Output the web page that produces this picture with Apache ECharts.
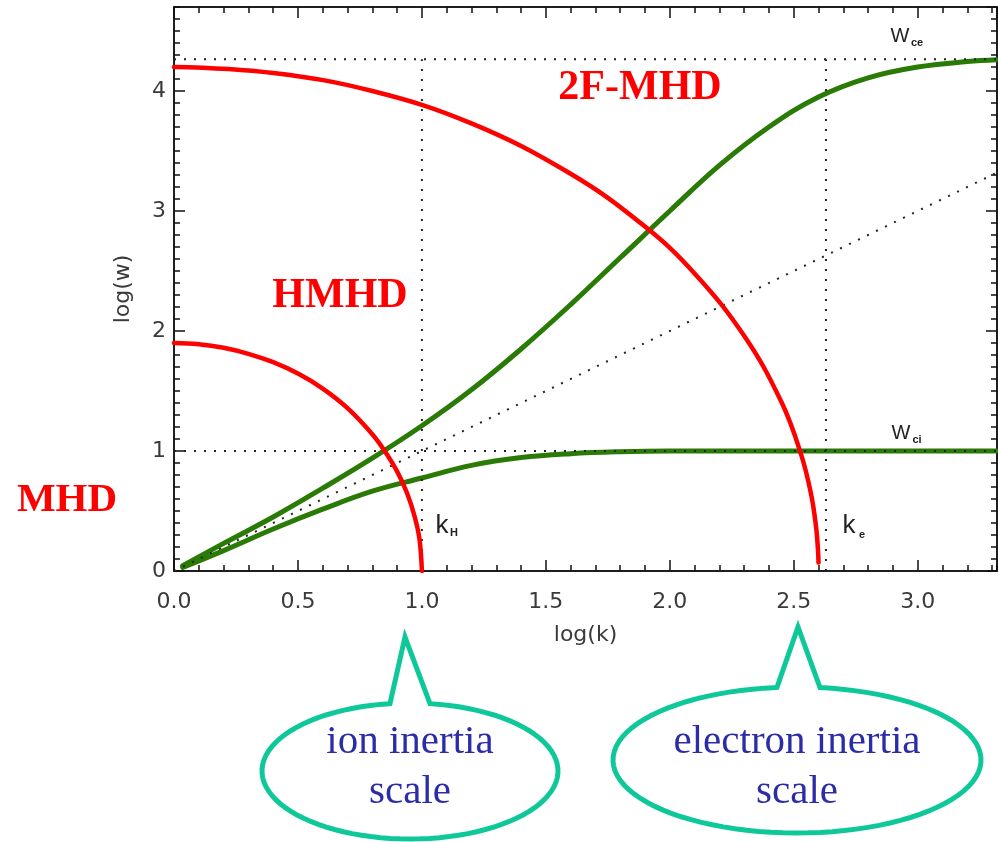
<!DOCTYPE html>
<html>
<head>
<meta charset="utf-8">
<title>2F-MHD dispersion</title>
<script src="https://cdn.jsdelivr.net/npm/echarts@6/dist/echarts.min.js"></script>
<style>
  html, body { margin: 0; padding: 0; background: #fff; }
  #chart { width: 998px; height: 842px; }
</style>
</head>
<body>
<div id="chart"></div>
<script>
// axis ranges and tick labels
var kMin = 0, kMax = 3.32;
var wMin = 0, wMax = 4.7;
var xTickLabels = ['0.0', '0.5', '1.0', '1.5', '2.0', '2.5', '3.0'];
var yTickLabels = ['0', '1', '2', '3', '4'];

// characteristic scales (log units)
var kH = 1.0, kE = 2.63;
var wCi = 1.0, wCe = 4.264;

// green dispersion branches
var upperBranch = [
  [0.035, 0.045], [0.2, 0.23], [0.4, 0.45], [0.6, 0.69], [0.8, 0.94],
  [1.0, 1.21], [1.2, 1.51], [1.4, 1.85], [1.6, 2.22], [1.8, 2.61],
  [2.0, 3.0], [2.2, 3.38], [2.4, 3.7], [2.6, 3.95], [2.8, 4.11],
  [3.0, 4.2], [3.2, 4.245], [3.32, 4.26]
];
var lowerBranch = [
  [0.035, 0.03], [0.2, 0.17], [0.4, 0.35], [0.6, 0.515], [0.8, 0.665],
  [1.0, 0.775], [1.2, 0.88], [1.4, 0.945], [1.6, 0.978], [1.8, 0.994],
  [2.0, 1.0], [2.5, 1.0], [3.32, 1.0]
];

// red regime boundaries
var mhdArc = [
  [0, 1.9], [0.1, 1.89], [0.2, 1.86], [0.3, 1.81], [0.4, 1.74], [0.5, 1.645],
  [0.6, 1.52], [0.7, 1.357], [0.8, 1.14], [0.85, 1.0], [0.9, 0.83],
  [0.94, 0.65], [0.97, 0.46], [0.99, 0.27], [1.0, 0]
];
var hallArc = [
  [0, 4.2], [0.4, 4.15], [0.8, 4.0], [1.2, 3.73], [1.6, 3.31], [1.9, 2.87],
  [2.1, 2.48], [2.3, 1.96], [2.45, 1.41], [2.53, 0.97], [2.57, 0.64],
  [2.59, 0.37], [2.598, 0.17], [2.6, 0.07]
];

var chart = echarts.init(document.getElementById('chart'));

var ink = '#111';
var tickFont = 'DejaVu Sans';
var tickColor = '#3a3a3a';

function xAx(pos, step, len, labelled) {
  return {
    type: 'value', position: pos, min: kMin, max: kMax, interval: step,
    axisLine: { show: true, onZero: false, lineStyle: { color: ink, width: 1.5 } },
    axisTick: { show: true, inside: true, length: len, lineStyle: { color: ink, width: 1.5 } },
    minorTick: { show: false },
    splitLine: { show: false },
    axisLabel: labelled ? {
      show: true, margin: 20, color: tickColor, fontSize: 22, fontFamily: tickFont,
      showMaxLabel: false,
      formatter: function (v) {
        var i = Math.round(v / 0.5);
        return Math.abs(v - i * 0.5) < 1e-6 && xTickLabels[i] ? xTickLabels[i] : '';
      }
    } : { show: false },
    name: labelled ? 'log(k)' : '',
    nameLocation: 'middle', nameGap: 53,
    nameTextStyle: { color: tickColor, fontSize: 22, fontFamily: tickFont }
  };
}

function yAx(pos, step, len, labelled) {
  return {
    type: 'value', position: pos, min: wMin, max: wMax, interval: step,
    axisLine: { show: true, onZero: false, lineStyle: { color: ink, width: 1.5 } },
    axisTick: { show: true, inside: true, length: len, lineStyle: { color: ink, width: 1.5 } },
    minorTick: { show: false },
    splitLine: { show: false },
    axisLabel: labelled ? {
      show: true, margin: 8, color: tickColor, fontSize: 22, fontFamily: tickFont,
      showMaxLabel: false,
      formatter: function (v) {
        var i = Math.round(v);
        return Math.abs(v - i) < 1e-6 && yTickLabels[i] ? yTickLabels[i] : '';
      }
    } : { show: false },
    name: labelled ? 'log(w)' : '',
    nameLocation: 'middle', nameGap: 40, nameRotate: 90,
    nameTextStyle: { color: tickColor, fontSize: 22, fontFamily: tickFont }
  };
}

function dotted(data) {
  return {
    type: 'line', data: data, symbol: 'none', silent: true,
    lineStyle: { color: '#222', width: 2, type: [2, 8] }
  };
}

function curve(data, color, width) {
  return {
    type: 'line', data: data, symbol: 'none', smooth: 0.4, silent: true,
    lineStyle: { color: color, width: width, cap: 'round' }
  };
}

var green = '#2a7a06';
var red = '#ff0000';
var teal = '#0fc89a';
var navy = '#2c2ca6';

function sub(x, y, s, size) {
  return { type: 'text', x: x, y: y, style: { text: s, font: 'bold ' + size + 'px "Liberation Sans"', fill: '#222', align: 'center', verticalAlign: 'middle' } };
}
function big(x, y, s, size, color, weight, family) {
  return { type: 'text', x: x, y: y, style: { text: s, font: weight + ' ' + size + 'px "' + family + '"', fill: color, align: 'center', verticalAlign: 'middle' } };
}

// speech-bubble outline: ellipse opened between two top points, joined to a tail tip
function bubble(cx, cy, rx, ry, xl, xr, tip) {
  var t0 = -Math.acos((xr - cx) / rx);
  var t1 = 2 * Math.PI - Math.acos((xl - cx) / rx);
  var pts = [];
  var n = 90;
  for (var i = 0; i <= n; i++) {
    var t = t0 + (t1 - t0) * i / n;
    pts.push([cx + rx * Math.cos(t), cy + ry * Math.sin(t)]);
  }
  pts.push(tip);
  return {
    type: 'polygon', shape: { points: pts },
    style: { fill: 'none', stroke: teal, lineWidth: 5, lineJoin: 'miter' }
  };
}

var option = {
  animation: false,
  backgroundColor: '#fff',
  grid: { left: 174, right: 1, top: 7, bottom: 271, containLabel: false, outerBoundsMode: 'none' },
  xAxis: [
    xAx('bottom', 0.5, 11, true),
    xAx('bottom', 0.1, 6, false),
    xAx('top', 0.5, 11, false),
    xAx('top', 0.1, 6, false)
  ],
  yAxis: [
    yAx('left', 1, 11, true),
    yAx('left', 0.1, 6, false),
    yAx('right', 1, 11, false),
    yAx('right', 0.1, 6, false)
  ],
  series: [
    curve(upperBranch, green, 5),
    curve(lowerBranch, green, 5),
    dotted([[0, 0], [kMax, kMax]]),
    dotted([[kMin, wCe], [kMax, wCe]]),
    dotted([[kMin, wCi], [kMax, wCi]]),
    dotted([[kH, 0], [kH, wCe]]),
    dotted([[kE, 0], [kE, wCe]]),
    curve(mhdArc, red, 4.5),
    curve(hallArc, red, 4.5)
  ],
  graphic: [
    big(900, 36, 'W', 20, '#222', 'normal', 'Liberation Sans'),
    sub(917, 43, 'ce', 11),
    big(901, 433, 'W', 20, '#222', 'normal', 'Liberation Sans'),
    sub(917, 440, 'ci', 11),
    big(442, 526, 'k', 26, '#222', 'normal', 'Liberation Sans'),
    sub(454, 533, 'H', 11),
    big(849, 526, 'k', 26, '#222', 'normal', 'Liberation Sans'),
    sub(862, 535, 'e', 11),

    big(640, 88, '2F-MHD', 42, red, 'bold', 'Liberation Serif'),
    big(340, 296, 'HMHD', 42, red, 'bold', 'Liberation Serif'),
    big(67, 500, 'MHD', 41, red, 'bold', 'Liberation Serif'),

    bubble(410, 771, 148, 68, 390, 430, [405, 637]),
    bubble(797, 760, 184, 73, 777, 820, [798, 627]),
    big(410, 742, 'ion inertia', 41, navy, 'normal', 'Liberation Serif'),
    big(410, 792, 'scale', 41, navy, 'normal', 'Liberation Serif'),
    big(797, 742, 'electron inertia', 41, navy, 'normal', 'Liberation Serif'),
    big(797, 792, 'scale', 41, navy, 'normal', 'Liberation Serif')
  ]
};

chart.setOption(option);
window.addEventListener('resize', chart.resize);
</script>
</body>
</html>
